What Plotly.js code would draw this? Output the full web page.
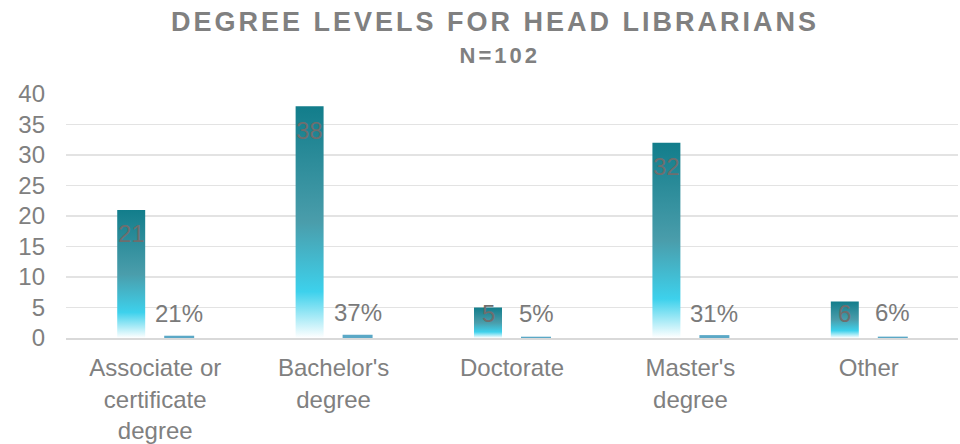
<!DOCTYPE html>
<html>
<head>
<meta charset="utf-8">
<script src="https://cdn.plot.ly/plotly-3.0.1.min.js"></script>
<style>html,body{margin:0;padding:0;background:#fff;}#chart{width:960px;height:444px;}</style>
</head>
<body>
<div id="chart"></div>
<script>
const categories = ["Associate or<br>certificate<br>degree", "Bachelor's<br>degree", "Doctorate", "Master's<br>degree", "Other"];
const counts = [21, 38, 5, 32, 6];
const shares = [0.21, 0.37, 0.05, 0.31, 0.06];
const shareLabels = ["21%", "37%", "5%", "31%", "6%"];
const yTicks = [0, 5, 10, 15, 20, 25, 30, 35, 40];
const titleText = "DEGREE LEVELS FOR HEAD LIBRARIANS";
const subtitleText = "N=102";

const FONT = "Liberation Sans, Arial, sans-serif";
const plotTop = 94, plotBottom = 106, H = 444;
const plotH = H - plotTop - plotBottom;
const pxPerUnit = plotH / 40;
const slotShift = 24;

function labelShift(v) { return -Math.min(24, v * pxPerUnit - 25); }

const annotations = [];
categories.forEach((c, i) => {
  annotations.push({x: c, y: counts[i], xref: 'x', yref: 'y', text: String(counts[i]),
    showarrow: false, xshift: -slotShift, yshift: labelShift(counts[i]), yanchor: 'middle',
    font: {family: FONT, size: 24, color: '#6e6e6e'}});
  annotations.push({x: c, y: shares[i], xref: 'x', yref: 'y', text: shareLabels[i],
    showarrow: false, xshift: slotShift, yshift: labelShift(shares[i]), yanchor: 'middle',
    font: {family: FONT, size: 24, color: '#7a7a7a'}});
});
annotations.push({x: 0.4865, y: (H - plotBottom - 56) / plotH, xref: 'paper', yref: 'paper', xanchor: 'center', yanchor: 'middle',
  text: '<b>' + subtitleText + '</b>', showarrow: false,
  font: {family: FONT, size: 22, color: '#808080'}});

const data = [
  {type: 'bar', x: categories, y: counts, name: 'Count', marker: {color: '#1b8391'}, hoverinfo: 'none'},
  {type: 'bar', x: categories, y: shares, name: 'Percent', marker: {color: '#5ba8c6', line: {color: '#5ba8c6', width: 2}}, hoverinfo: 'none'}
];

const layout = {
  width: 960, height: 444,
  margin: {l: 66, r: 2, t: plotTop, b: plotBottom},
  paper_bgcolor: '#ffffff', plot_bgcolor: '#ffffff',
  showlegend: false,
  barmode: 'group', bargap: 0.462, bargroupgap: 0.417,
  title: {
    text: titleText,
    font: {family: FONT, size: 27, color: '#808080', weight: 'bold'},
    x: 0.5156, xanchor: 'center', xref: 'container',
    y: 1 - 22 / H, yanchor: 'middle', yref: 'container'
  },
  xaxis: {
    type: 'category', showgrid: false, zeroline: false,
    showline: true, linecolor: '#d9d9d9', linewidth: 1.5,
    ticks: '', ticklabelstandoff: 8,
    tickfont: {family: FONT, size: 24, color: '#808080'}
  },
  yaxis: {
    range: [0, 40], tickvals: yTicks, ticktext: yTicks.map(String),
    showgrid: true, gridcolor: '#e3e3e3', gridwidth: 1.5,
    zeroline: false, showline: false, ticks: '', ticklabelstandoff: 20,
    tickfont: {family: FONT, size: 24, color: '#808080'}
  },
  annotations: annotations
};

Plotly.newPlot('chart', data, layout, {staticPlot: true}).then(gd => {
  const svg = gd.querySelector('svg.main-svg');
  const ns = 'http://www.w3.org/2000/svg';
  let defs = svg.querySelector('defs');
  if (!defs) { defs = document.createElementNS(ns, 'defs'); svg.insertBefore(defs, svg.firstChild); }
  const grad = document.createElementNS(ns, 'linearGradient');
  grad.setAttribute('id', 'tealGrad');
  grad.setAttribute('x1', '0'); grad.setAttribute('y1', '0');
  grad.setAttribute('x2', '0'); grad.setAttribute('y2', '1');
  [[0, '#127d8b'], [0.5, '#4a9dab'], [0.8, '#3dd1ec'], [1, '#ffffff']].forEach(([o, c]) => {
    const s = document.createElementNS(ns, 'stop');
    s.setAttribute('offset', o); s.setAttribute('stop-color', c);
    grad.appendChild(s);
  });
  defs.appendChild(grad);
  const traces = gd.querySelectorAll('g.barlayer g.trace.bars');
  if (traces.length) {
    traces[0].querySelectorAll('g.point path').forEach(p => { p.style.fill = 'url(#tealGrad)'; });
  }
  const t = gd.querySelector('.gtitle');
  if (t) t.style.letterSpacing = '3px';
  const anns = gd.querySelectorAll('.annotation-text');
  if (anns.length) anns[anns.length - 1].style.letterSpacing = '3px';
});
</script>
</body>
</html>
